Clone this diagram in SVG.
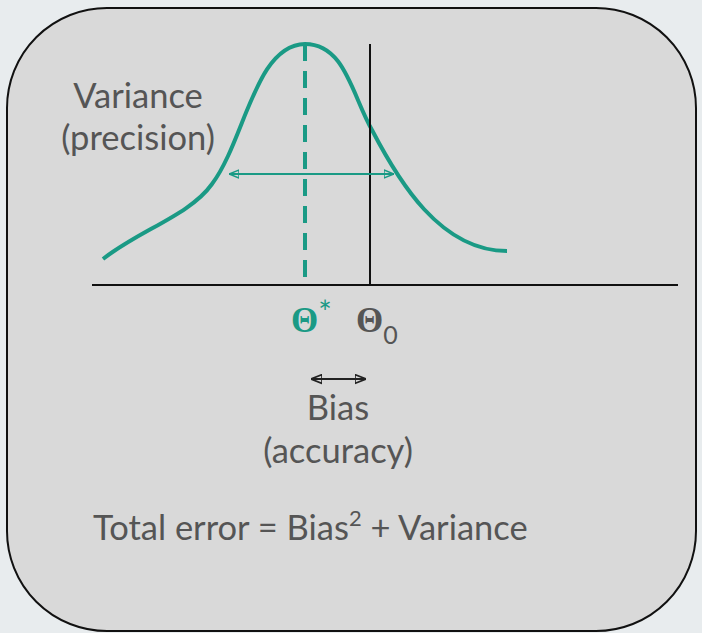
<svg xmlns="http://www.w3.org/2000/svg" width="702" height="633" viewBox="0 0 702 633">
<style>
.t{font-family:Lato,"Open Sans","Liberation Sans",sans-serif;font-size:34.5px;fill:#555}
.th{font-family:"Liberation Serif","DejaVu Serif",serif;font-weight:bold;font-size:35px}
.s{font-family:Lato,"Liberation Sans",sans-serif;font-weight:normal}
</style>
<defs>
<marker id="ot" viewBox="0 0 10 10" refX="10" refY="5" markerWidth="10" markerHeight="10" markerUnits="userSpaceOnUse" orient="auto-start-reverse">
<path d="M0,1 L10,5 L0,9 Z" fill="none" stroke="#1a9a85" stroke-width="1.5"/>
</marker>
<marker id="ob" viewBox="0 0 10 10" refX="10" refY="5" markerWidth="11" markerHeight="11" markerUnits="userSpaceOnUse" orient="auto-start-reverse">
<path d="M0,1 L10,5 L0,9 Z" fill="none" stroke="#222" stroke-width="1.5"/>
</marker>
</defs>
<rect width="702" height="633" fill="#e8ecee"/>
<rect id="frame" x="7" y="8" width="689" height="623" rx="100" ry="100" fill="#d9d9d9" stroke="#111" stroke-width="2"/>
<g id="curve">
<path d="M103,259 C140,230 190,215 212,184 C245,140 255,45 305,44 C345,44 352,95 372,130 C398,180 440,251 507,251" fill="none" stroke="#1a9a85" stroke-width="4"/>
</g>
<g id="connectors">
<line x1="92" y1="285" x2="678" y2="285" stroke="#111" stroke-width="2"/>
<line x1="370" y1="44" x2="370" y2="285" stroke="#111" stroke-width="2"/>
<line x1="305" y1="44" x2="305" y2="285" stroke="#1a9a85" stroke-width="4" stroke-dasharray="17,10"/>
<line x1="229" y1="174" x2="394" y2="174" stroke="#1a9a85" stroke-width="2" marker-start="url(#ot)" marker-end="url(#ot)"/>
<line x1="311" y1="379" x2="366" y2="379" stroke="#222" stroke-width="2" marker-start="url(#ob)" marker-end="url(#ob)"/>
</g>
<g id="variance-label">
<text class="t" x="138" y="108" text-anchor="middle">Variance</text>
<text class="t" x="138" y="150" text-anchor="middle">(precision)</text>
</g>
<g id="theta-star">
<text class="th" x="291" y="332" fill="#1a9a85">Θ<tspan class="s" font-size="32" dy="-8">*</tspan></text>
</g>
<g id="theta-0">
<text class="th" x="356" y="332" fill="#555">Θ<tspan class="s" font-size="25" dy="12">0</tspan></text>
</g>
<g id="bias-label">
<text class="t" x="338" y="420" text-anchor="middle">Bias</text>
<text class="t" x="338" y="463" text-anchor="middle">(accuracy)</text>
</g>
<g id="total">
<text class="t" x="93" y="540">Total error = Bias<tspan font-size="22" dy="-14">2</tspan><tspan dy="14"> + Variance</tspan></text>
</g>
</svg>
